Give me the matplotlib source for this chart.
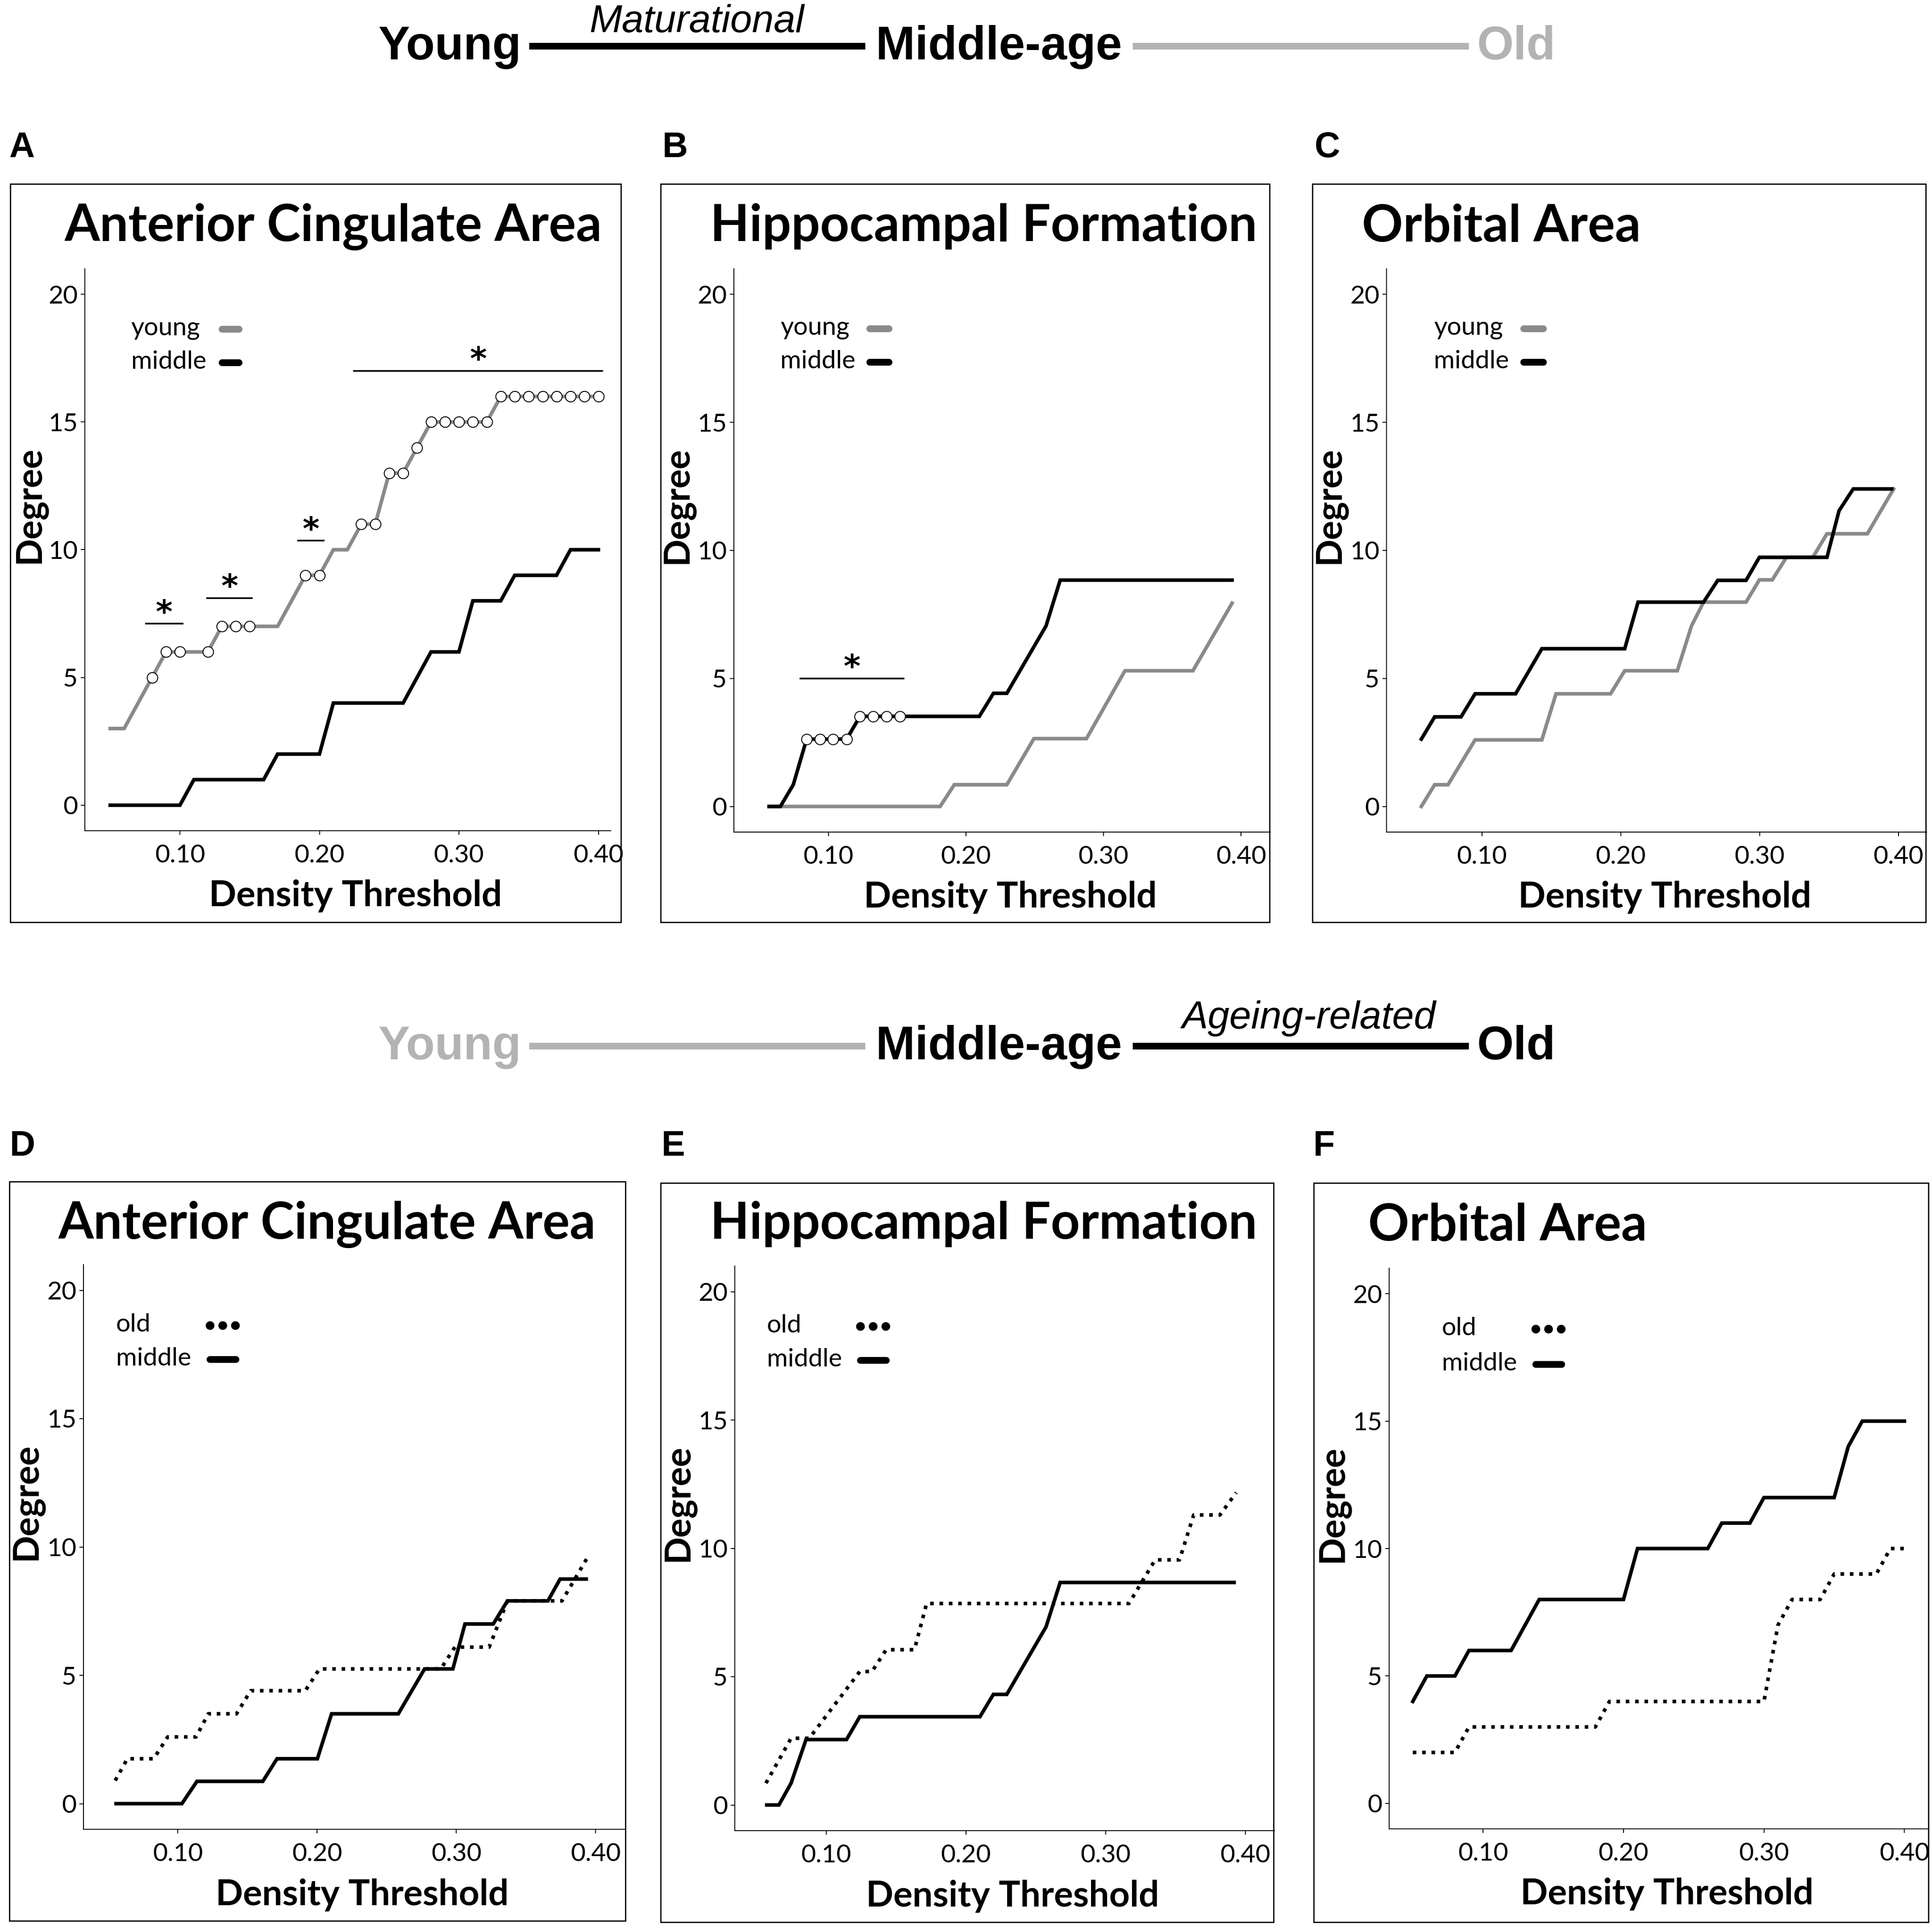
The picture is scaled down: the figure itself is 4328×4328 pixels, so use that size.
import numpy as np
import matplotlib.pyplot as plt
from matplotlib.lines import Line2D
from matplotlib.patches import Rectangle

# ---------------- data (degree vs. density threshold) ----------------
# regular threshold grid used by panels A and F
thr = [0.05, 0.06, 0.07, 0.08, 0.09, 0.10, 0.11, 0.12, 0.13, 0.14, 0.15, 0.16,
       0.17, 0.18, 0.19, 0.20, 0.21, 0.22, 0.23, 0.24, 0.25, 0.26, 0.27, 0.28,
       0.29, 0.30, 0.31, 0.32, 0.33, 0.34, 0.35, 0.36, 0.37, 0.38, 0.39, 0.40]

# A - Anterior Cingulate Area (young vs middle)
young_A = [3, 3, 4, 5, 6, 6, 6, 6, 7, 7, 7, 7, 7, 8, 9, 9, 10, 10, 11, 11,
           13, 13, 14, 15, 15, 15, 15, 15, 16, 16, 16, 16, 16, 16, 16, 16]
middle_A = [0, 0, 0, 0, 0, 0, 1, 1, 1, 1, 1, 1, 2, 2, 2, 2, 4, 4, 4, 4,
            4, 4, 5, 6, 6, 6, 8, 8, 8, 9, 9, 9, 9, 10, 10, 10]
sig_pts_A = [0.08, 0.09, 0.10, 0.12, 0.13, 0.14, 0.15, 0.19, 0.20, 0.23, 0.24,
             0.25, 0.26, 0.27, 0.28, 0.29, 0.30, 0.31, 0.32, 0.33, 0.34, 0.35,
             0.36, 0.37, 0.38, 0.39, 0.40]
sig_bars_A = [(0.075, 0.1025, 7.1), (0.119, 0.152, 8.1),
              (0.184, 0.2035, 10.35), (0.224, 0.4035, 17.0)]

# B - Hippocampal Formation (young vs middle)
thr_B_mid = [0.0568, 0.065, 0.0744, 0.0841, 0.1132, 0.1229, 0.2097, 0.2200,
             0.2297, 0.2582, 0.2685, 0.3935]
middle_B = [0, 0, 0.85, 2.63, 2.63, 3.52, 3.52, 4.42, 4.42, 7.05, 8.84, 8.84]
thr_B_young = [0.0568, 0.1812, 0.1915, 0.2297, 0.2494, 0.2876, 0.3156, 0.3650, 0.3935]
young_B = [0, 0, 0.85, 0.85, 2.65, 2.65, 5.3, 5.3, 7.94]
sig_pts_B = [0.0841, 0.0938, 0.1032, 0.1132, 0.1229, 0.1326, 0.1421, 0.1518]
sig_bars_B = [(0.0788, 0.1553, 5.0)]

# C - Orbital Area (young vs middle)
thr_C_mid = [0.0563, 0.0659, 0.0849, 0.0950, 0.1242, 0.1431, 0.2028, 0.2124,
             0.2596, 0.2698, 0.2902, 0.2998, 0.3485, 0.3572, 0.3674, 0.3951]
middle_C = [2.63, 3.5, 3.5, 4.4, 4.4, 6.16, 6.16, 7.98, 7.98, 8.83, 8.83,
            9.73, 9.73, 11.55, 12.4, 12.4]
thr_C_young = [0.0563, 0.0659, 0.0755, 0.0950, 0.1431, 0.1533, 0.1926, 0.2028,
               0.2407, 0.2509, 0.2596, 0.2902, 0.2998, 0.3091, 0.3193, 0.3383,
               0.3485, 0.3776, 0.3965]
young_C = [0, 0.85, 0.85, 2.6, 2.6, 4.4, 4.4, 5.3, 5.3, 7.05, 7.98, 7.98,
           8.85, 8.85, 9.73, 9.73, 10.65, 10.65, 12.4]

# D - Anterior Cingulate Area (old vs middle)
thr_D_mid = [0.0556, 0.1029, 0.1137, 0.1610, 0.1712, 0.2002, 0.2104, 0.2583,
             0.2772, 0.2975, 0.3062, 0.3265, 0.3367, 0.3658, 0.3745, 0.3933]
middle_D = [0, 0, 0.87, 0.87, 1.75, 1.75, 3.5, 3.5, 5.25, 5.25, 7.0, 7.0,
            7.9, 7.9, 8.75, 8.75]
thr_D_old = [0.0550, 0.0637, 0.0826, 0.0927, 0.1131, 0.1218, 0.1421, 0.1523,
             0.1915, 0.2017, 0.2888, 0.2990, 0.3236, 0.3367, 0.3759, 0.3948]
old_D = [0.9, 1.75, 1.75, 2.6, 2.6, 3.5, 3.5, 4.4, 4.4, 5.25, 5.25, 6.1, 6.1,
         7.9, 7.9, 9.65]

# E - Hippocampal Formation (old vs middle)
thr_E_mid = [0.0574, 0.0661, 0.0748, 0.0855, 0.1145, 0.1240, 0.2100, 0.2196,
             0.2292, 0.2573, 0.2674, 0.3919]
middle_E = [0, 0, 0.85, 2.55, 2.55, 3.44, 3.44, 4.31, 4.31, 6.94, 8.67, 8.67]
thr_E_old = [0.0568, 0.0748, 0.0878, 0.1240, 0.1327, 0.1429, 0.1631, 0.1718,
             0.3166, 0.3354, 0.3528, 0.3630, 0.3818, 0.3934]
old_E = [0.85, 2.6, 2.6, 5.2, 5.2, 6.05, 6.05, 7.85, 7.85, 9.55, 9.55, 11.3,
         11.3, 12.17]

# F - Orbital Area (old vs middle)
middle_F = [4, 5, 5, 5, 6, 6, 6, 6, 7, 8, 8, 8, 8, 8, 8, 8, 10, 10, 10, 10,
            10, 10, 11, 11, 11, 12, 12, 12, 12, 12, 12, 14, 15, 15, 15, 15]
old_F = [2, 2, 2, 2, 3, 3, 3, 3, 3, 3, 3, 3, 3, 3, 4, 4, 4, 4, 4, 4, 4, 4,
         4, 4, 4, 4, 7, 8, 8, 8, 9, 9, 9, 9, 10, 10]

tick_vals = [0.10, 0.20, 0.30, 0.40]
tick_text = ['0.10', '0.20', '0.30', '0.40']

# ---------------- styling ----------------
W = 4328
GREY = '#8a8a8a'
LIGHT = '#b3b3b3'
LW = 5.8
DOTS = (0, (1.0, 1.6))
HEAD = ['Liberation Sans Narrow', 'Liberation Sans', 'DejaVu Sans']

plt.rcParams['font.family'] = ['Lato', 'DejaVu Sans']
fig = plt.figure(figsize=(W / 100, W / 100), dpi=100)


def fx(px):
    return px / W


def fy(py):
    return 1 - py / W


def fig_line(x0, x1, y, color, lw):
    fig.add_artist(Line2D([fx(x0), fx(x1)], [fy(y), fy(y)], transform=fig.transFigure,
                          color=color, lw=lw, solid_capstyle='butt'))


def make_axes(l, t, r, b, xlim):
    ax = fig.add_axes([fx(l), fy(b), (r - l) / W, (b - t) / W])
    ax.set_xlim(*xlim)
    ax.set_ylim(-1, 21)
    ax.set_xticks(tick_vals)
    ax.set_xticklabels(tick_text)
    ax.set_yticks([0, 5, 10, 15, 20])
    for s in ['top', 'right']:
        ax.spines[s].set_visible(False)
    for s in ['left', 'bottom']:
        ax.spines[s].set_linewidth(1.5)
    ax.tick_params(labelsize=41, length=6.5, width=1.5)
    ax.tick_params(axis='x', pad=15)
    ax.tick_params(axis='y', pad=5)
    ax.set_xlabel('Density Threshold', fontsize=58, fontweight='bold', va='center')
    ax.set_ylabel('Degree', fontsize=58, fontweight='bold', va='center')
    ax.xaxis.set_label_coords(0.515, -0.116)
    ax.yaxis.set_label_coords(-0.105, 0.58)
    return ax


def panel_box(l, t, r, b, title, title_x, title_y):
    fig.add_artist(Rectangle((fx(l), fy(b)), (r - l) / W, (b - t) / W,
                             transform=fig.transFigure, fill=False, lw=2, ec='black'))
    fig.text(fx(title_x), fy(title_y), title, fontsize=82, fontweight='bold',
             ha='left', va='baseline')


def key(ax, x_text, x0, x1, rows):
    for label, y, style in rows:
        ax.text(x_text, y - 0.011, label, transform=ax.transAxes, fontsize=41,
                ha='left', va='baseline')
        ax.plot([x0, x1], [y, y], transform=ax.transAxes, clip_on=False, **style)


def sig(ax, bars):
    for x0, x1, y in bars:
        ax.plot([x0, x1], [y, y], color='black', lw=2.6, solid_capstyle='butt')
        ax.text((x0 + x1) / 2, y + 0.05, '*', ha='center', va='baseline',
                family=['DejaVu Sans'], fontsize=52, fontweight='bold')


key_young = dict(color=GREY, lw=11, solid_capstyle='round')
key_mid = dict(color='black', lw=11, solid_capstyle='round')
key_old = dict(color='black', lw=14, linestyle=(0, (0.01, 1.45)), dash_capstyle='round')
marker_style = dict(ls='none', marker='o', ms=17, mfc='white', mec='black', mew=1.5, zorder=4)

# ---------------- header rows ----------------
for base, line_y, cols, sub, sub_x, sub_y in [
        (133, 103, ('black', 'black', 'black', LIGHT, LIGHT), 'Maturational', 1561, 72),
        (2373, 2343, (LIGHT, LIGHT, 'black', 'black', 'black'), 'Ageing-related', 2932, 2304)]:
    fig.text(fx(1007), fy(base), 'Young', family=HEAD, fontweight='bold', fontsize=76,
             color=cols[0], ha='center', va='baseline')
    fig_line(1185, 1938, line_y, cols[1], 10.8)
    fig.text(fx(2238), fy(base), 'Middle-age', family=HEAD, fontweight='bold', fontsize=76,
             color=cols[2], ha='center', va='baseline')
    fig_line(2537, 3290, line_y, cols[3], 10.8)
    fig.text(fx(3397), fy(base), 'Old', family=HEAD, fontweight='bold', fontsize=76,
             color=cols[4], ha='center', va='baseline')
    fig.text(fx(sub_x), fy(sub_y), sub, family=HEAD, style='italic', fontsize=63,
             ha='center', va='baseline')

for letter, x, y in [('A', 20, 352), ('B', 1484, 352), ('C', 2945, 352),
                     ('D', 22, 2589), ('E', 1482, 2589), ('F', 2942, 2589)]:
    fig.text(fx(x), fy(y), letter, family=['Liberation Sans', 'DejaVu Sans'],
             fontweight='bold', fontsize=57, ha='left', va='baseline')

# ---------------- A ----------------
panel_box(23, 412, 1391, 2066, 'Anterior Cingulate Area', 145, 540)
ax = make_axes(190, 602, 1368, 1861, (0.0318, 0.4088))
ax.plot(thr, young_A, color=GREY, lw=LW, solid_joinstyle='miter')
ax.plot(thr, middle_A, color='black', lw=LW, solid_joinstyle='miter')
ax.plot(sig_pts_A, np.interp(sig_pts_A, thr, young_A), **marker_style)
sig(ax, sig_bars_A)
key(ax, 0.088, 0.261, 0.293, [('young', 0.893, key_young), ('middle', 0.833, key_mid)])

# ---------------- B ----------------
panel_box(1480, 412, 2844, 2066, 'Hippocampal Formation', 1591, 540)
ax = make_axes(1644, 602, 2846, 1864, (0.0312, 0.4214))
ax.plot(thr_B_young, young_B, color=GREY, lw=LW, solid_joinstyle='miter')
ax.plot(thr_B_mid, middle_B, color='black', lw=LW, solid_joinstyle='miter')
ax.plot(sig_pts_B, np.interp(sig_pts_B, thr_B_mid, middle_B), **marker_style)
sig(ax, sig_bars_B)
key(ax, 0.0865, 0.253, 0.289, [('young', 0.894, key_young), ('middle', 0.834, key_mid)])

# ---------------- C ----------------
panel_box(2940, 412, 4314, 2066, 'Orbital Area', 3051, 540)
ax = make_axes(3106, 602, 4316, 1864, (0.0312, 0.4203))
ax.plot(thr_C_young, young_C, color=GREY, lw=LW, solid_joinstyle='miter')
ax.plot(thr_C_mid, middle_C, color='black', lw=LW, solid_joinstyle='miter')
key(ax, 0.0876, 0.254, 0.290, [('young', 0.894, key_young), ('middle', 0.834, key_mid)])

# ---------------- D ----------------
panel_box(21, 2647, 1401, 4303, 'Anterior Cingulate Area', 131, 2775)
ax = make_axes(187, 2833, 1400, 4098, (0.0322, 0.4211))
ax.plot(thr_D_old, old_D, color='black', lw=LW, linestyle=DOTS)
ax.plot(thr_D_mid, middle_D, color='black', lw=LW, solid_joinstyle='miter')
key(ax, 0.060, 0.2335, 0.2815, [('old', 0.8925, key_old), ('middle', 0.8325, key_mid)])

# ---------------- E ----------------
panel_box(1480, 2650, 2853, 4306, 'Hippocampal Formation', 1591, 2775)
ax = make_axes(1646, 2836, 2855, 4101, (0.0345, 0.4208))
ax.plot(thr_E_old, old_E, color='black', lw=LW, linestyle=DOTS)
ax.plot(thr_E_mid, middle_E, color='black', lw=LW, solid_joinstyle='miter')
key(ax, 0.0596, 0.2325, 0.2805, [('old', 0.893, key_old), ('middle', 0.833, key_mid)])

# ---------------- F ----------------
panel_box(2943, 2650, 4320, 4306, 'Orbital Area', 3065, 2778)
ax = make_axes(3112, 2841, 4320, 4097, (0.0332, 0.4171))
ax.plot(thr, old_F, color='black', lw=LW, linestyle=DOTS)
ax.plot(thr, middle_F, color='black', lw=LW, solid_joinstyle='miter')
key(ax, 0.0975, 0.2715, 0.3195, [('old', 0.8917, key_old), ('middle', 0.829, key_mid)])

fig.savefig('out.png', dpi=100)
